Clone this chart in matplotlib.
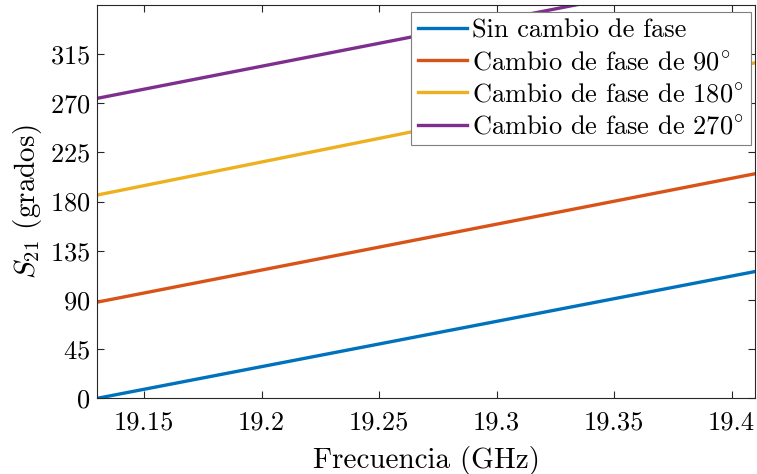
import matplotlib
matplotlib.use("Agg")
import matplotlib.pyplot as plt

plt.rcParams['font.family'] = ['cmr10', 'DejaVu Serif']
plt.rcParams['mathtext.fontset'] = 'cm'
plt.rcParams['axes.formatter.use_mathtext'] = True

freq = [19.13, 19.41]
sin_cambio = [0.0, 116.0]
fase_90 = [88.0, 205.5]
fase_180 = [186.0, 307.0]
fase_270 = [274.5, 392.0]

labels = ["Sin cambio de fase",
          r"Cambio de fase de $90^{\!\circ}$",
          r"Cambio de fase de $180^{\!\circ}$",
          r"Cambio de fase de $270^{\!\circ}$"]
colors = ["#0072BD", "#D95319", "#EDB120", "#7E2F8E"]

xticks = [19.15, 19.2, 19.25, 19.3, 19.35, 19.4]
xtick_labels = ["19.15", "19.2", "19.25", "19.3", "19.35", "19.4"]
yticks = [0, 45, 90, 135, 180, 225, 270, 315]

fig = plt.figure(figsize=(7.57, 4.74), dpi=100)
ax = fig.add_axes([0.1285, 0.1597, 0.869, 0.83])

for y, lab, c in zip([sin_cambio, fase_90, fase_180, fase_270], labels, colors):
    ax.plot(freq, y, color=c, linewidth=2.4, label=lab)

ax.set_xlim(19.13, 19.41)
ax.set_ylim(0, 360)
ax.set_xticks(xticks, labels=xtick_labels)
ax.set_yticks(yticks)
ax.tick_params(direction='in', top=True, right=True, labelsize=19,
               color='#262626', length=5, width=0.8, pad=5)
ax.tick_params(axis='x', pad=9)
for s in ax.spines.values():
    s.set_color('#262626')
    s.set_linewidth(0.8)

ax.set_xlabel("Frecuencia (GHz)", fontsize=21, labelpad=8)
ax.set_ylabel(r"$S_{21}$ (grados)", fontsize=21, labelpad=4)

leg = ax.legend(loc='upper right', bbox_to_anchor=(0.993, 0.982), fontsize=19,
                fancybox=False, framealpha=1, edgecolor='#7f7f7f',
                handlelength=1.85, handletextpad=0.2, labelspacing=0.32,
                borderpad=0.25, borderaxespad=0)
leg.get_frame().set_linewidth(0.8)

fig.savefig('out.png', dpi=100)
